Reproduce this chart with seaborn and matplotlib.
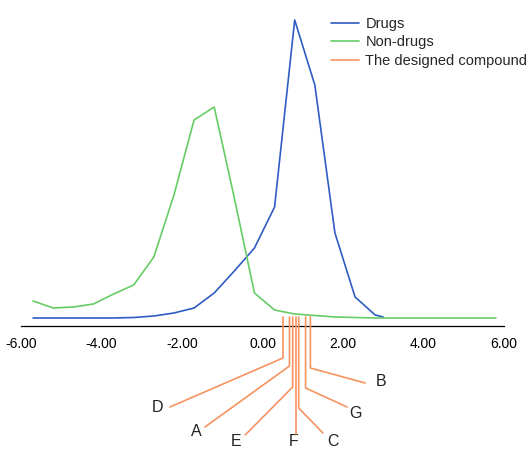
import matplotlib
matplotlib.use("Agg")
import matplotlib.pyplot as plt
import seaborn as sns
import pandas as pd

# distribution curves (x = property value, y = relative frequency, arbitrary units)
drug_x = [-5.7, -5.2, -4.7, -4.2, -3.7, -3.2, -2.7, -2.2, -1.7, -1.2, -0.7, -0.2,
          0.3, 0.8, 1.3, 1.8, 2.3, 2.8, 3.0]
drug_y = [0, 0, 0, 0, 0, 0.5, 2, 5, 10, 25, 47, 70, 111, 298, 233, 85, 21, 3, 1]

nondrug_x = [-5.7, -5.2, -4.7, -4.2, -3.7, -3.2, -2.7, -2.2, -1.7, -1.2, -0.7, -0.2,
             0.3, 0.8, 1.3, 1.8, 2.3, 2.8, 3.3, 3.8, 4.3, 4.8, 5.3, 5.8]
nondrug_y = [17, 10, 11, 14, 24, 33, 61, 123, 198, 211, 120, 25,
             8, 4, 2.5, 1, 0.5, 0, 0, 0, 0, 0, 0, 0]

# designed compounds
compound_names = ["D", "A", "E", "F", "C", "G", "B"]
compound_x = [0.51, 0.67, 0.75, 0.83, 0.90, 1.07, 1.19]

# leader-line layout (bend depth, end point, label point) in data units
bend_y = [-40, -48, -69, -116, -90, -70, -50]
end_pt = [(-2.30, -89), (-1.43, -109), (-0.43, -117), (0.83, -116), (1.50, -115), (2.10, -89), (2.55, -65)]
text_pt = [(-2.62, -90), (-1.65, -114), (-0.66, -124), (0.78, -124), (1.76, -123), (2.32, -95), (2.95, -64)]

drugs = pd.DataFrame({"x": drug_x, "y": drug_y})
nondrugs = pd.DataFrame({"x": nondrug_x, "y": nondrug_y})

sns.set_style("white")
plt.rcParams["font.family"] = ["Liberation Sans", "DejaVu Sans"]

blue = "#2f5cc4"
green = "#66cc66"
orange = "#f7935f"

fig = plt.figure(figsize=(5.31, 4.51), dpi=100)
ax = fig.add_axes([21 / 531, 0, 483 / 531, 1])

sns.lineplot(data=drugs, x="x", y="y", ax=ax, color=blue, lw=1.2, label="Drugs")
sns.lineplot(data=nondrugs, x="x", y="y", ax=ax, color=green, lw=1.2, label="Non-drugs")

for i, (name, cx) in enumerate(zip(compound_names, compound_x)):
    xs = [cx, cx, end_pt[i][0]]
    ys = [1, bend_y[i], end_pt[i][1]]
    ax.plot(xs, ys, color=orange, lw=1.2, zorder=5,
            label="The designed compound" if i == 0 else None)
    ax.text(text_pt[i][0], text_pt[i][1], name, ha="center", va="center",
            fontsize=11.5, color="#222222")

ax.set_xlim(-6, 6)
ax.set_ylim(-133, 318)
ax.set_xticks([-6, -4, -2, 0, 2, 4, 6])
ax.set_xticklabels(["-6.00", "-4.00", "-2.00", "0.00", "2.00", "4.00", "6.00"],
                   fontsize=8.2, fontweight="bold", color="#222222")
ax.set_yticks([])
ax.set_xlabel("")
ax.set_ylabel("")

for s in ["left", "right", "top"]:
    ax.spines[s].set_visible(False)
ax.spines["bottom"].set_position(("data", -8))
ax.spines["bottom"].set_linewidth(0.9)
ax.spines["bottom"].set_color("black")
ax.tick_params(axis="x", direction="out", length=5, width=0.9, pad=3, colors="black")
ax.patch.set_alpha(0)

leg = ax.legend(loc="upper left", bbox_to_anchor=(331 / 531, 1 - 17 / 451),
                bbox_transform=fig.transFigure, frameon=False, fontsize=10.5,
                handlelength=1.9, handletextpad=0.45, labelspacing=0.3,
                borderpad=0, borderaxespad=0)

fig.savefig("out.png", dpi=100)
